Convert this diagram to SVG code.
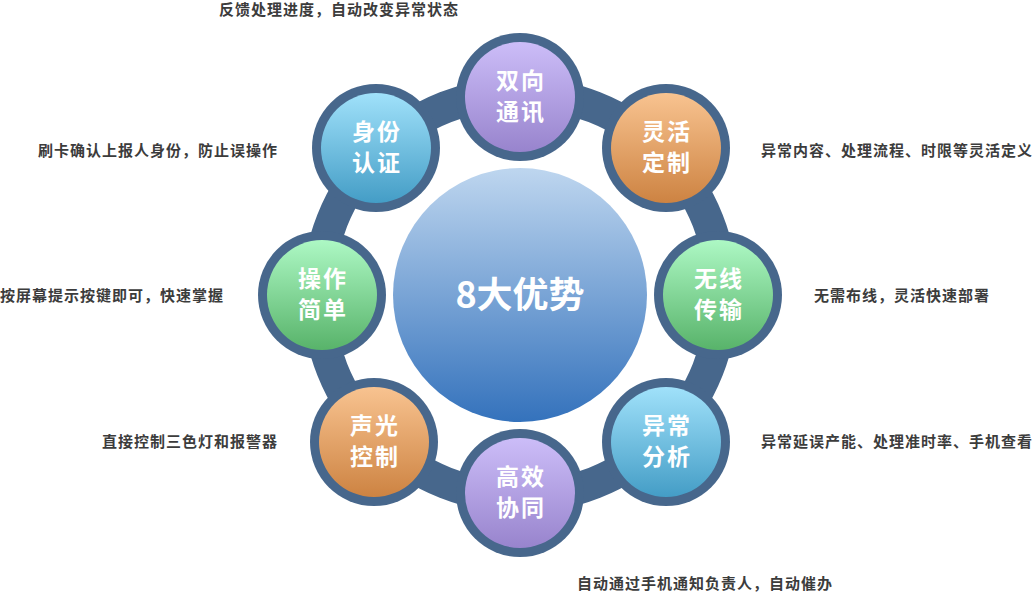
<svg xmlns="http://www.w3.org/2000/svg" width="1033" height="592" viewBox="0 0 1033 592">
<defs>
<linearGradient id="gCenter" x1="0" y1="0" x2="0" y2="1"><stop offset="0" stop-color="#bed6ef"/><stop offset="1" stop-color="#3472bc"/></linearGradient>
<linearGradient id="gPurple" x1="0" y1="0" x2="0" y2="1"><stop offset="0" stop-color="#ccbdf8"/><stop offset="1" stop-color="#9884cd"/></linearGradient>
<linearGradient id="gOrange" x1="0" y1="0" x2="0" y2="1"><stop offset="0" stop-color="#f8c390"/><stop offset="1" stop-color="#cd8342"/></linearGradient>
<linearGradient id="gCyan" x1="0" y1="0" x2="0" y2="1"><stop offset="0" stop-color="#a0e1fa"/><stop offset="1" stop-color="#449dc6"/></linearGradient>
<linearGradient id="gGreen" x1="0" y1="0" x2="0" y2="1"><stop offset="0" stop-color="#adf8c4"/><stop offset="1" stop-color="#58b36a"/></linearGradient>
</defs>
<style>
.ring{fill:none;stroke:#47678c;stroke-width:32}
.outer{fill:#47678c}
.lbl{font-family:"Noto Sans CJK SC","Noto Sans",sans-serif;font-weight:bold;font-size:23px;fill:#ffffff;text-anchor:middle;letter-spacing:2px}
.desc{font-family:"Noto Sans CJK SC","Noto Sans",sans-serif;font-weight:bold;font-size:15px;fill:#3c3c3c;letter-spacing:1px}
.r{text-anchor:end}
.center{font-family:"Noto Sans CJK SC","Noto Sans",sans-serif;font-weight:bold;font-size:36px;fill:#ffffff;text-anchor:middle}
</style>
<rect width="1033" height="592" fill="#ffffff"/>
<g id="connectors">
<circle class="ring" cx="520" cy="295" r="202"/>
</g>
<g id="center-node">
<circle cx="520" cy="295" r="127" fill="url(#gCenter)"/>
<text class="center" x="520" y="308">8大优势</text>
</g>
<g id="node-shuangxiang">
<circle class="outer" cx="520" cy="97" r="64"/>
<circle cx="520" cy="97" r="55" fill="url(#gPurple)"/>
<text class="lbl" x="521" y="89">双向</text>
<text class="lbl" x="521" y="120">通讯</text>
</g>
<g id="node-linghuo">
<circle class="outer" cx="666" cy="148" r="64"/>
<circle cx="666" cy="148" r="55" fill="url(#gOrange)"/>
<text class="lbl" x="667" y="140">灵活</text>
<text class="lbl" x="667" y="171">定制</text>
</g>
<g id="node-wuxian">
<circle class="outer" cx="718" cy="295" r="64"/>
<circle cx="718" cy="295" r="55" fill="url(#gGreen)"/>
<text class="lbl" x="719" y="287">无线</text>
<text class="lbl" x="719" y="318">传输</text>
</g>
<g id="node-yichang">
<circle class="outer" cx="666" cy="442" r="64"/>
<circle cx="666" cy="442" r="55" fill="url(#gCyan)"/>
<text class="lbl" x="667" y="434">异常</text>
<text class="lbl" x="667" y="465">分析</text>
</g>
<g id="node-gaoxiao">
<circle class="outer" cx="520" cy="493" r="64"/>
<circle cx="520" cy="493" r="55" fill="url(#gPurple)"/>
<text class="lbl" x="521" y="485">高效</text>
<text class="lbl" x="521" y="516">协同</text>
</g>
<g id="node-shengguang">
<circle class="outer" cx="374" cy="442" r="64"/>
<circle cx="374" cy="442" r="55" fill="url(#gOrange)"/>
<text class="lbl" x="375" y="434">声光</text>
<text class="lbl" x="375" y="465">控制</text>
</g>
<g id="node-caozuo">
<circle class="outer" cx="322" cy="295" r="64"/>
<circle cx="322" cy="295" r="55" fill="url(#gGreen)"/>
<text class="lbl" x="323" y="287">操作</text>
<text class="lbl" x="323" y="318">简单</text>
</g>
<g id="node-shenfen">
<circle class="outer" cx="376" cy="148" r="64"/>
<circle cx="376" cy="148" r="55" fill="url(#gCyan)"/>
<text class="lbl" x="377" y="140">身份</text>
<text class="lbl" x="377" y="171">认证</text>
</g>
<g id="descriptions">
<text class="desc" x="219" y="15">反馈处理进度，自动改变异常状态</text>
<text class="desc r" x="278" y="156">刷卡确认上报人身份，防止误操作</text>
<text class="desc r" x="224" y="301">按屏幕提示按键即可，快速掌握</text>
<text class="desc r" x="278" y="447">直接控制三色灯和报警器</text>
<text class="desc" x="761" y="156">异常内容、处理流程、时限等灵活定义</text>
<text class="desc" x="814" y="301">无需布线，灵活快速部署</text>
<text class="desc" x="761" y="447">异常延误产能、处理准时率、手机查看</text>
<text class="desc" x="577" y="589">自动通过手机通知负责人，自动催办</text>
</g>
</svg>
